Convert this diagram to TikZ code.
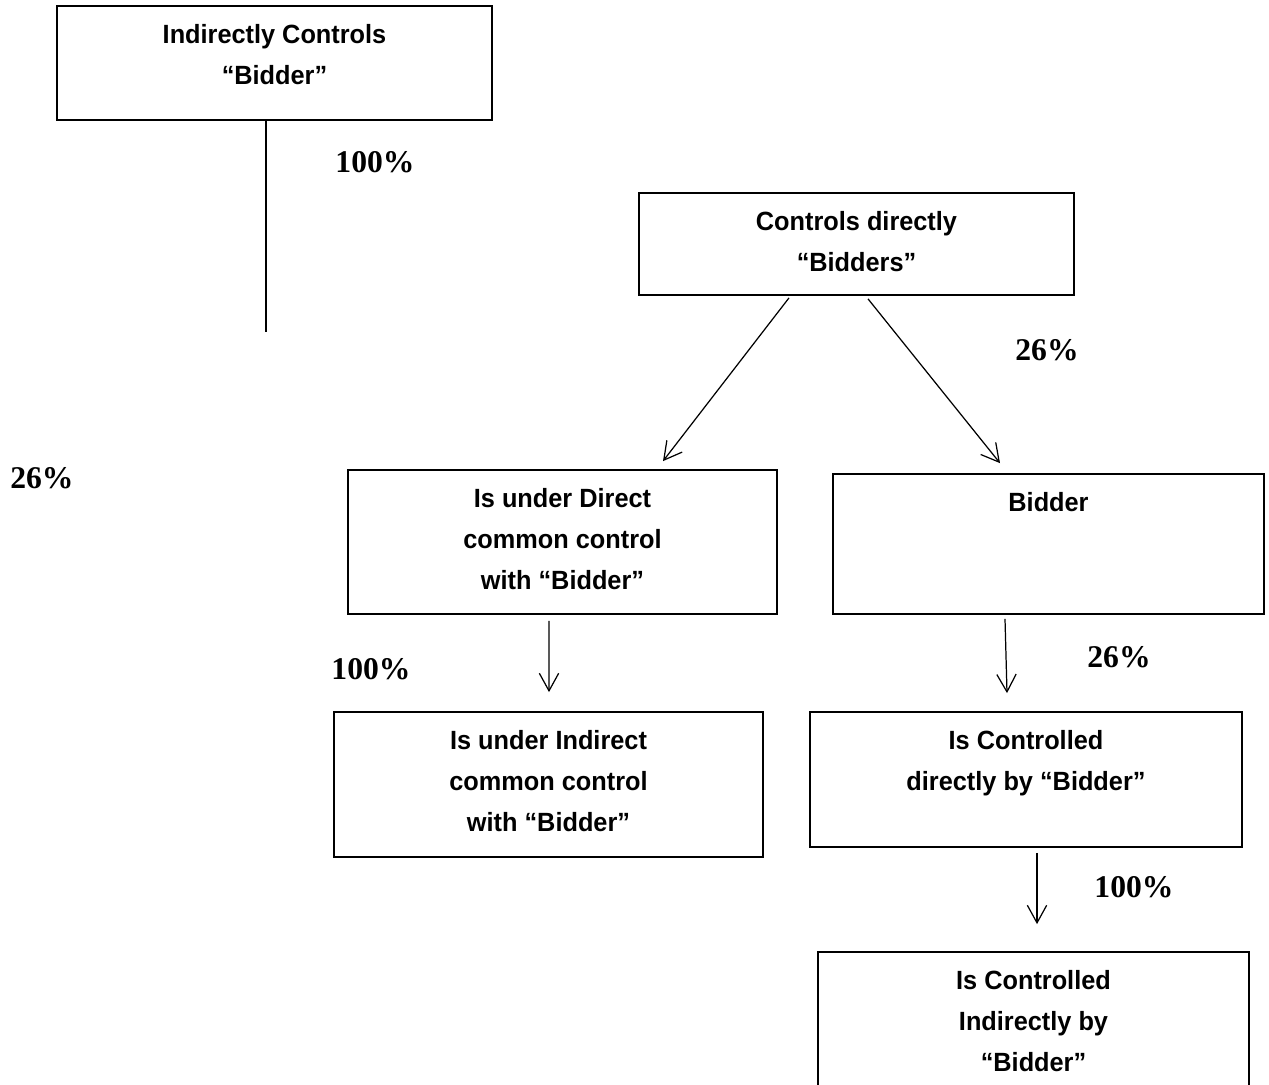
\documentclass[tikz,border=0pt]{standalone}
\usepackage{fontspec}
\usetikzlibrary{arrows.meta,positioning,calc}
\newfontfamily\boxfont[FakeStretch=0.96]{Liberation Sans}
\newfontfamily\pctfont{Liberation Serif}
\begin{document}
\begin{tikzpicture}[box/.style={draw,line width=1pt,inner sep=0pt},txt/.style={inner sep=0pt,align=center,font=\boxfont\bfseries\fontsize{15}{23.2}\selectfont},pct/.style={inner sep=0pt,font=\pctfont\bfseries\fontsize{18}{20}\selectfont},arr/.style={line width=0.7pt,-{Straight Barb[length=10pt,width=11pt]}}]
\useasboundingbox (0,0) rectangle (25.38,-21.68);
\node[box,minimum width=8.70cm,minimum height=2.28cm] (ic) at (5.49,-1.26) {};
\node[box,minimum width=8.70cm,minimum height=2.04cm] (cd) at (17.13,-4.88) {};
\node[box,minimum width=8.58cm,minimum height=2.88cm] (dcc) at (11.25,-10.84) {};
\node[box,minimum width=8.62cm,minimum height=2.80cm] (bid) at (20.97,-10.88) {};
\node[box,minimum width=8.58cm,minimum height=2.90cm] (icc) at (10.97,-15.69) {};
\node[box,minimum width=8.64cm,minimum height=2.70cm] (cdb) at (20.52,-15.59) {};
\node[box,minimum width=8.62cm,minimum height=2.96cm] (cib) at (20.67,-20.52) {};
\node[txt,below=11pt of ic.north] (ic-t) {Indirectly Controls\\“Bidder”};
\node[txt,below=11pt of cd.north] (cd-t) {Controls directly\\“Bidders”};
\node[txt,below=11pt of dcc.north] (dcc-t) {Is under Direct\\common control\\with “Bidder”};
\node[txt,below=11pt of bid.north] (bid-t) {Bidder};
\node[txt,below=11pt of icc.north] (icc-t) {Is under Indirect\\common control\\with “Bidder”};
\node[txt,below=11pt of cdb.north] (cdb-t) {Is Controlled\\directly by “Bidder”};
\node[txt,below=11pt of cib.north] (cib-t) {Is Controlled\\Indirectly by\\“Bidder”};
\node[pct] (p-ic) at (7.50,-3.24) {100\%};
\node[pct] (p-cd) at (20.94,-7.00) {26\%};
\node[pct] (p-left) at (0.84,-9.56) {26\%};
\node[pct] (p-dcc) at (7.42,-13.38) {100\%};
\node[pct] (p-bid) at (22.38,-13.14) {26\%};
\node[pct] (p-cdb) at (22.68,-17.74) {100\%};
\coordinate (ic-end) at (5.32,-6.64);
\draw[line width=0.7pt](ic.south -| ic-end)--(ic-end);
\draw[arr]($(cd.south)+(-1.35,-0.04)$)--($(dcc.north)+(2.01,0.16)$);
\draw[arr]($(cd.south)+(0.23,-0.06)$)--($(bid.north)+(-0.97,0.2)$);
\draw[arr]($(dcc.south)+(-0.27,-0.12)$)--($(icc.north)+(0.01,0.38)$);
\draw[arr]($(bid.south)+(-0.87,-0.08)$)--($(cdb.north)+(-0.38,0.36)$);
\draw[arr]($(cdb.south)+(0.22,-0.10)$)--($(cib.north)+(0.07,0.54)$);
\end{tikzpicture}
\end{document}
